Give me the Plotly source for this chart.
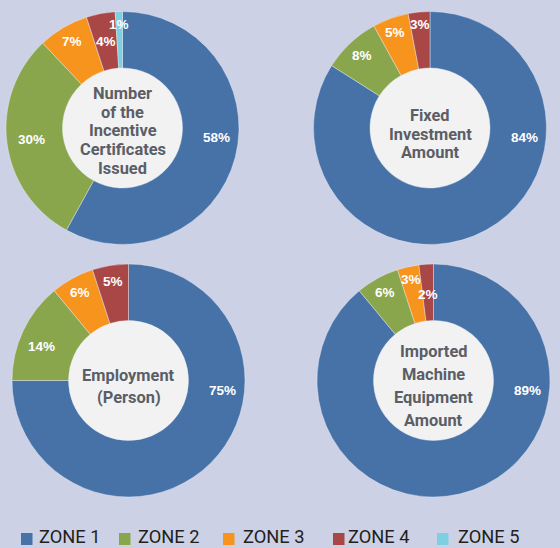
import math
import plotly.graph_objects as go

# ---- data -------------------------------------------------------------
zones = ["ZONE 1", "ZONE 2", "ZONE 3", "ZONE 4", "ZONE 5"]
zone_colors = ["#4672a8", "#8aa64d", "#f7941e", "#a94747", "#7ecfe3"]

certificates_pct = [58, 30, 7, 4, 1]
fixed_investment_pct = [84, 8, 5, 3]
employment_pct = [75, 14, 6, 5]
imported_machinery_pct = [89, 6, 3, 2]

certificates_title = ["Number", "of the", "Incentive", "Certificates", "Issued"]
fixed_investment_title = ["Fixed", "Investment", "Amount"]
employment_title = ["Employment", "(Person)"]
imported_machinery_title = ["Imported", "Machine", "Equipment", "Amount"]

# ---- canvas / styling ---------------------------------------------------
W, H = 560, 548
BG = "#cdd1e5"
HOLE_FILL = "#f2f2f2"
TITLE_COLOR = "#5b5e66"
TITLE_FONT = "Roboto, DejaVu Sans Condensed, sans-serif"
LEGEND_FONT = "Roboto, DejaVu Sans Condensed, sans-serif"
SANS = "Liberation Sans, Arial, sans-serif"
HOLE = 0.515

# ring placement in pixels: centre, radius, title leading, title shift,
# and per-label (radius, angle) adjustments for crowded small slices
panels = [
    dict(values=certificates_pct, title=certificates_title,
         cx=122.5, cy=128, r=116.5, lead=18.6, tdy=3,
         nudge={1: (-8, 0), 3: (-12, 0), 4: (4, 0)}),
    dict(values=fixed_investment_pct, title=fixed_investment_title,
         cx=430, cy=128, r=116.5, lead=18.5, tdy=6.5,
         nudge={2: (2, 0), 3: (4, 0)}),
    dict(values=employment_pct, title=employment_title,
         cx=128.5, cy=380.5, r=116.5, lead=22, tdy=5.5,
         nudge={1: (-7, -4)}),
    dict(values=imported_machinery_pct, title=imported_machinery_title,
         cx=433.5, cy=380.5, r=116.5, lead=22.7, tdy=5.5,
         nudge={2: (3, 0), 3: (-14, 0)}),
]

legend_square_x = [21, 119, 223, 333, 437]
legend_text_x = [38, 137, 242, 347, 457]
legend_y = 539


def px(x):
    return x / W


def py(y):
    return 1 - y / H


fig = go.Figure()
shapes = []
annotations = []

for p in panels:
    vals = p["values"]
    n = len(vals)
    cx, cy, r = p["cx"], p["cy"], p["r"]

    fig.add_trace(go.Pie(
        labels=zones[:n],
        values=vals,
        marker=dict(colors=zone_colors[:n],
                    line=dict(color="rgba(235,238,246,0.7)", width=0.6)),
        hole=HOLE,
        sort=False,
        direction="clockwise",
        rotation=0,
        textinfo="none",
        hoverinfo="label+percent",
        showlegend=False,
        domain=dict(x=[px(cx - r), px(cx + r)], y=[py(cy + r), py(cy - r)]),
    ))

    # light disc filling the hole
    hr = HOLE * r + 1
    shapes.append(dict(type="circle", xref="paper", yref="paper", layer="below",
                       x0=px(cx - hr), x1=px(cx + hr), y0=py(cy + hr), y1=py(cy - hr),
                       fillcolor=HOLE_FILL, line=dict(width=0)))

    # centre title, one line at a time
    lines = p["title"]
    mid = cy + p["tdy"]
    for i, line in enumerate(lines):
        ly = mid + (i - (len(lines) - 1) / 2) * p["lead"]
        annotations.append(dict(
            x=px(cx), y=py(ly), xref="paper", yref="paper",
            text=line, showarrow=False, xanchor="center", yanchor="middle",
            borderpad=0,
            font=dict(family=TITLE_FONT, size=16.4, color=TITLE_COLOR, weight="bold")))

    # percentage labels positioned from the slice angles
    total = sum(vals)
    cum = 0
    for i, v in enumerate(vals):
        mid_ang = (cum + v / 2) / total * 360
        cum += v
        if i == 0:
            ang, rad = 96.0, 95.0
        else:
            ang, rad = mid_ang, 100.0
        dr, da = p.get("nudge", {}).get(i, (0, 0))
        ang += da
        rad += dr
        lx = cx + rad * math.sin(math.radians(ang))
        ly = cy - rad * math.cos(math.radians(ang))
        annotations.append(dict(
            x=px(lx), y=py(ly), xref="paper", yref="paper",
            text=f"{v}%", showarrow=False, xanchor="center", yanchor="middle",
            borderpad=0,
            font=dict(family=SANS, size=13.5, color="white", weight="bold")))

# legend row
for name, color, sx, tx in zip(zones, zone_colors, legend_square_x, legend_text_x):
    shapes.append(dict(type="rect", xref="paper", yref="paper",
                       x0=px(sx), x1=px(sx + 11.5), y0=py(legend_y + 6), y1=py(legend_y - 6),
                       fillcolor=color, line=dict(width=0)))
    annotations.append(dict(
        x=px(tx), y=py(legend_y - 2.5), xref="paper", yref="paper",
        text=name, showarrow=False, xanchor="left", yanchor="middle",
        borderpad=0,
        font=dict(family=LEGEND_FONT, size=18.3, color="#231f20")))

fig.update_layout(
    width=W, height=H,
    margin=dict(l=0, r=0, t=0, b=0),
    paper_bgcolor=BG,
    plot_bgcolor=BG,
    shapes=shapes,
    annotations=annotations,
    showlegend=False,
)

fig.write_html("out.html")
